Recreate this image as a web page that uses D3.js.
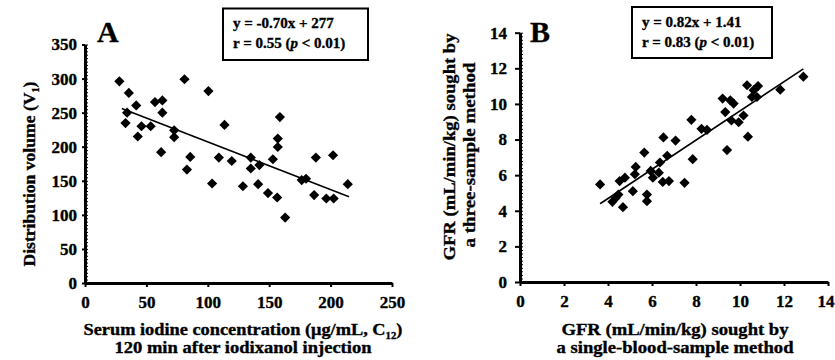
<!DOCTYPE html>
<html>
<head>
<meta charset="utf-8">
<script src="https://cdn.jsdelivr.net/npm/d3@7"></script>
<style>
  body { margin: 0; background: #fff; }
  svg text { font-family: "Liberation Serif", "Times New Roman", serif; font-weight: bold; fill: #000;
    stroke: #000; stroke-width: 0.35px; }
</style>
</head>
<body>
<svg id="chart" width="835" height="360"></svg>
<script>
// Panel A: serum iodine concentration vs distribution volume
const concA = [28, 35.7, 81, 100.5, 41.7, 34.3, 63, 57, 63, 33, 46, 53.5, 43, 72.6, 72.6, 113.6,
  62, 85.7, 83, 109, 119.5, 135, 135, 142, 103.5, 128.6, 141, 149, 156.5, 158.7, 157, 157,
  153, 163, 176.5, 180, 186.6, 196.5, 202.5, 188, 202, 214];
const volA = [296, 279, 299, 281.6, 260.6, 250, 250, 265.5, 268, 234.7, 230, 230, 215, 224, 214, 232,
  192, 185, 166.5, 184, 179, 184, 168, 173, 146, 142, 145, 132, 125.5, 243.5, 212, 199.6,
  181.6, 96, 151, 153, 129, 124, 124, 184, 187.5, 145];
const fitA = { slope: -0.70, intercept: 277, from: 30, to: 215 };
const ticksA_x = [0, 50, 100, 150, 200, 250];
const ticksA_y = [0, 50, 100, 150, 200, 250, 300, 350];

// Panel B: single-sample GFR vs three-sample GFR
const singleB = [3.64, 4.2, 4.35, 4.47, 4.68, 4.53, 4.77, 5.13, 5.22, 5.26, 5.65, 5.77, 5.77, 5.94,
  6.04, 6.31, 6.36, 6.49, 6.52, 6.69, 6.77, 7.07, 7.48, 7.79, 7.85, 8.25, 8.5, 9.21, 9.33, 9.41,
  9.56, 9.61, 9.71, 9.94, 10.16, 10.32, 10.36, 10.54, 10.62, 10.82, 10.77, 11.83, 12.88];
const threeB = [5.48, 4.5, 4.72, 4.91, 4.2, 5.67, 5.86, 5.1, 6.05, 6.46, 7.27, 4.91, 4.54, 6.24,
  5.86, 6.14, 6.71, 5.62, 8.12, 7.09, 5.67, 7.94, 5.57, 9.11, 6.9, 8.6, 8.54, 10.3, 9.54, 7.41,
  10.2, 9.07, 10.02, 8.97, 9.35, 11.05, 8.16, 10.39, 10.77, 11.0, 10.39, 10.8, 11.53];
const fitB = { slope: 0.82, intercept: 1.41, from: 3.64, to: 12.88 };
const ticksB = [0, 2, 4, 6, 8, 10, 12, 14];

const svg = d3.select('#chart');
const diamond = d3.symbol().type(d3.symbolSquare).size(52);

function styleTicks(a) {
  a.selectAll('text')
    .attr('font-family', 'Liberation Serif').attr('font-weight', 'bold')
    .style('font-size', '17px').attr('fill', '#000');
}

function drawPanel(opt) {
  const g = svg.append('g');
  const x = d3.scaleLinear().domain(opt.xDomain).range(opt.xRange);
  const y = d3.scaleLinear().domain(opt.yDomain).range(opt.yRange);

  // minor ticks on the inside of the y axis
  g.append('g')
    .attr('transform', `translate(${opt.xRange[0]},0)`)
    .call(d3.axisRight(y).tickValues(d3.range(opt.yDomain[0], opt.yDomain[1] + 1e-9, opt.yMinor)).tickSize(3).tickFormat(''))
    .call(a => a.select('.domain').remove())
    .call(a => a.selectAll('line').attr('stroke', '#000').attr('stroke-width', 1));

  const xAxis = g.append('g')
    .attr('transform', `translate(0,${opt.yRange[0]})`)
    .call(d3.axisBottom(x).tickValues(opt.xTicks).tickSize(4).tickSizeOuter(0).tickPadding(9))
    .call(a => a.select('.domain').attr('stroke', '#000').attr('stroke-width', 3))
    .call(a => a.selectAll('.tick line').attr('stroke', '#000').attr('stroke-width', 2))
    .call(styleTicks);
  // keep the last label inside the page
  if (opt.clampLast) {
    xAxis.selectAll('.tick text').filter(d => d === opt.xTicks[opt.xTicks.length - 1])
      .attr('text-anchor', 'end').attr('x', 834 - x(opt.xTicks[opt.xTicks.length - 1]));
  }

  g.append('g')
    .attr('transform', `translate(${opt.xRange[0]},0)`)
    .call(d3.axisLeft(y).tickValues(opt.yTicks).tickSize(opt.yTickSize).tickSizeOuter(0).tickPadding(opt.yPad))
    .call(a => a.select('.domain').attr('stroke', '#000').attr('stroke-width', 3))
    .call(a => a.selectAll('.tick line').attr('stroke', '#000').attr('stroke-width', 2))
    .call(styleTicks);

  g.append('line')
    .attr('x1', x(opt.fit.from)).attr('y1', y(opt.fit.slope * opt.fit.from + opt.fit.intercept))
    .attr('x2', x(opt.fit.to)).attr('y2', y(opt.fit.slope * opt.fit.to + opt.fit.intercept))
    .attr('stroke', '#000').attr('stroke-width', 1.6);

  g.selectAll('.pt')
    .data(opt.xs.map((v, i) => [v, opt.ys[i]]))
    .enter()
    .append('path')
    .attr('d', diamond)
    .attr('transform', d => `translate(${x(d[0])},${y(d[1])}) rotate(45)`)
    .attr('fill', '#000');

  g.append('text')
    .attr('x', opt.letter[0]).attr('y', opt.letter[1])
    .style('font-size', '30px')
    .text(opt.letterText);

  const b = opt.box;
  g.append('rect')
    .attr('x', b.x).attr('y', b.y).attr('width', b.w).attr('height', b.h)
    .attr('fill', '#fff').attr('stroke', '#000').attr('stroke-width', 2);
  g.append('text').attr('x', b.x + 10).attr('y', b.y + 19.5).style('font-size', '15px').text(opt.eq);
  const l2 = g.append('text').attr('x', b.x + 10).attr('y', b.y + 39.5).style('font-size', '15px');
  l2.append('tspan').text(`r = ${opt.r} (`);
  l2.append('tspan').attr('font-style', 'italic').text('p');
  l2.append('tspan').text(' < 0.01)');
  return g;
}

const gA = drawPanel({
  xDomain: [0, 250], xRange: [85, 392], yDomain: [0, 350], yRange: [283, 44.5],
  xTicks: ticksA_x, yTicks: ticksA_y, yMinor: 5, yTickSize: 3, yPad: 5,
  xs: concA, ys: volA, fit: fitA,
  letter: [97, 42], letterText: 'A',
  box: { x: 223, y: 8.5, w: 145, h: 51.5 },
  eq: 'y = -0.70x + 277', r: '0.55'
});

const gB = drawPanel({
  xDomain: [0, 14], xRange: [520, 828], yDomain: [0, 14], yRange: [282, 32.7],
  xTicks: ticksB, yTicks: ticksB, yMinor: 0.2, yTickSize: 5, yPad: 8, clampLast: true,
  xs: singleB, ys: threeB, fit: fitB,
  letter: [530, 42], letterText: 'B',
  box: { x: 632, y: 7, w: 140, h: 51 },
  eq: 'y = 0.82x + 1.41', r: '0.83'
});

function title(g, x, y, rotate, width) {
  return g.append('text')
    .attr('transform', rotate ? `translate(${x},${y}) rotate(-90)` : `translate(${x},${y})`)
    .attr('text-anchor', 'middle')
    .attr('textLength', width).attr('lengthAdjust', 'spacingAndGlyphs')
    .style('font-size', '17px');
}

// axis titles, panel A
const tA1 = title(gA, 243, 335, false, 319);
tA1.append('tspan').text('Serum iodine concentration (μg/mL, C');
tA1.append('tspan').attr('dy', 4).style('font-size', '10px').text('12');
tA1.append('tspan').attr('dy', -4).text(')');
title(gA, 243, 353, false, 257).text('120 min after iodixanol injection');
const tA2 = title(gA, 35, 174, true, 185);
tA2.append('tspan').text('Distribution volume (V');
tA2.append('tspan').attr('dy', 4).style('font-size', '10px').text('1');
tA2.append('tspan').attr('dy', -4).text(')');

// axis titles, panel B
title(gB, 675, 335, false, 227).text('GFR (mL/min/kg) sought by');
title(gB, 675, 353, false, 237).text('a single-blood-sample method');
title(gB, 455, 147, true, 227).text('GFR (mL/min/kg) sought by');
title(gB, 475, 155, true, 185).text('a three-sample method');
</script>
</body>
</html>
